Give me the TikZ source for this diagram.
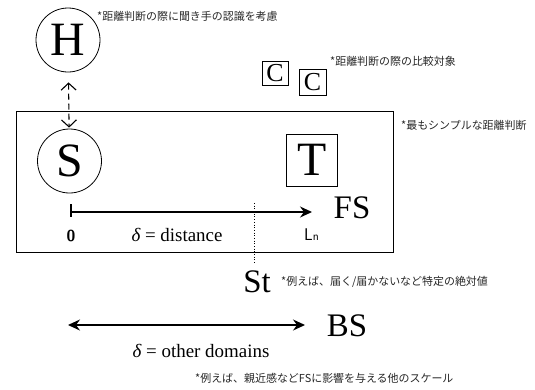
\documentclass[tikz,border=0pt]{standalone}
\usepackage{fontspec}
\setmainfont{Liberation Serif}
\newfontfamily\jp{Noto Sans CJK JP}
\usetikzlibrary{arrows.meta}
\tikzset{stl/.tip={Stealth[length=12bp,width=11bp,inset=4bp]},
  barb/.tip={Straight Barb[length=7bp,width=15bp,line width=1.1pt]}}
\begin{document}
\begin{tikzpicture}[x=1bp,y=-1bp,
  mid/.style={inner sep=0pt,font=\fontsize{33}{33}\selectfont},
  circ/.style={draw,circle,minimum size=64bp,line width=0.8pt,inner sep=0pt,font=\fontsize{48}{48}\selectfont},
  sqbox/.style={draw,rectangle,line width=0.8pt,inner sep=0pt},
  note/.style={inner sep=0pt,anchor=west,text=black!85,font=\jp\fontsize{11}{13}\selectfont},
  arr/.style={line width=1.3pt,-stl}]
\useasboundingbox (0,0) rectangle (535,389);
% frame
\draw[line width=0.8pt] (16,111) rectangle (393,252);
% nodes
\node[circ] (H) at (68,40) {H};
\node[circ] (S) at (69.5,161) {S};
\node[sqbox,minimum width=51bp,minimum height=52bp,font=\fontsize{48}{48}\selectfont] (T) at (312,160) {T};
\node[sqbox,minimum width=26bp,minimum height=24bp,font=\fontsize{26}{26}\selectfont] (C1) at (275,73) {C};
\node[sqbox,minimum width=27bp,minimum height=26bp,font=\fontsize{26}{26}\selectfont] (C2) at (312.5,82) {C};
\node[mid] (FS) at (352,208) {FS};
\node[mid] (St) at (257,282) {St};
\node[mid] (BS) at (347,326) {BS};
% notes
\node[note] (nH) at (97,16) {*距離判断の際に聞き手の認識を考慮};
\node[note] (nC) at (330,61) {*距離判断の際の比較対象};
\node[note] (nF) at (401,125) {*最もシンプルな距離判断};
\node[note] (nSt) at (281,282) {*例えば、届く/届かないなど特定の絶対値};
\node[note] (nB) at (195,378) {*例えば、親近感などFSに影響を与える他のスケール};
% dashed H-S
\draw[line width=1.1pt,dash pattern=on 6bp off 4bp,barb-barb,
  shorten <=10bp,shorten >=1bp] (H) -- (S);
% FS axis
\coordinate (zero) at (71,212);
\coordinate (ln) at (312,212);
\draw[line width=1.8pt] (71,204) -- (71,217);
\draw[arr] (zero) -- (ln);
\node[inner sep=0pt,font=\sffamily\bfseries\fontsize{16}{16}\selectfont] (z) at (71,236) {0};
\node[inner sep=0pt,font=\fontsize{19}{19}\selectfont] (dd) at (177,235) {{\itshape δ} = distance};
\node[inner sep=0pt,anchor=base west,font=\sffamily\fontsize{17}{17}\selectfont] (Ln) at (304,240) {L{\fontsize{12}{12}\selectfont n}};
% dotted line
\coordinate (dt) at (254,203);
\coordinate (db) at (254,263);
\draw[dotted,line width=0.7pt] (dt) -- (db);
% BS arrow
\coordinate (bl) at (68,325);
\coordinate (br) at (305,325);
\draw[line width=1.3pt,stl-stl] (bl) -- (br);
\node[inner sep=0pt,font=\fontsize{19}{19}\selectfont] (od) at (201,351) {{\itshape δ} = other domains};
\end{tikzpicture}
\end{document}
